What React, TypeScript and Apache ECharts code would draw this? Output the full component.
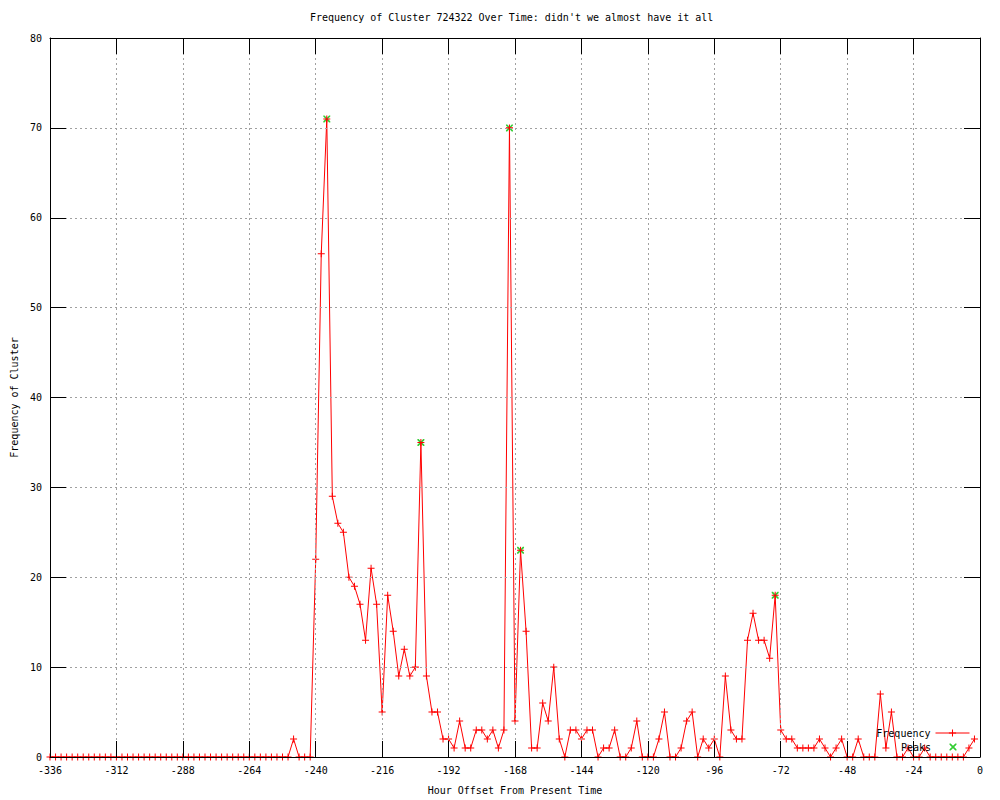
import React, { useEffect, useRef } from "react";
import * as echarts from "echarts";

const titleText = "Frequency of Cluster 724322 Over Time: didn't we almost have it all";
const xAxisName = "Hour Offset From Present Time";
const yAxisName = "Frequency of Cluster";

// samples every 2 hours, starting at -336
const startHour = -336;
const stepHours = 2;
const frequency = [
  0, 0, 0, 0, 0, 0, 0, 0, 0, 0, 0, 0, 0, 0, 0, 0, 0, 0, 0, 0, 0, 0,
  0, 0, 0, 0, 0, 0, 0, 0, 0, 0, 0, 0, 0, 0, 0, 0, 0, 0, 0, 0, 0, 0,
  2, 0, 0, 0,
  22, 56, 71, 29, 26, 25, 20, 19, 17, 13, 21, 17, 5, 18, 14, 9, 12, 9, 10, 35,
  9, 5, 5, 2, 2, 1, 4, 1, 1, 3, 3, 2, 3, 1, 3, 70, 4, 23, 14, 1,
  1, 6, 4, 10, 2, 0, 3, 3, 2, 3, 3, 0, 1, 1, 3, 0, 0, 1, 4, 0,
  0, 0, 2, 5, 0, 0, 1, 4, 5, 0, 2, 1, 2, 0, 9, 3, 2, 2, 13, 16,
  13, 13, 11, 18, 3, 2, 2, 1, 1, 1, 1, 2, 1, 0, 1, 2, 0, 0, 2, 0,
  0, 0, 7, 1, 5, 0, 0, 1, 0, 0, 1, 0, 0, 0, 0, 0, 0, 0, 1, 2,
];

const peakHours = [-236, -202, -170, -166, -74];
const peakValues = [71, 35, 70, 23, 18];

const xTickInterval = 24;
const yTickInterval = 10;

const PLUS = "path://M3,0L4,0L4,3L7,3L7,4L4,4L4,7L3,7L3,4L0,4L0,3L3,3Z";
const CROSS = "path://M0,0L1.2,0L7,5.8L7,7L5.8,7L0,1.2Z M5.8,0L7,0L7,1.2L1.2,7L0,7L0,5.8Z";
// same cross, centred in a 34x7 box for the legend key
const CROSS_KEY =
  "path://M0,0L0,0Z M34,7L34,7Z M13.5,0L14.7,0L20.5,5.8L20.5,7L19.3,7L13.5,1.2Z M19.3,0L20.5,0L20.5,1.2L14.7,7L13.5,7L13.5,5.8Z";

const FONT = "DejaVu Sans Mono";
const RED = "#ff0000";
const GREEN = "#00c000";

export default function App() {
  const ref = useRef<HTMLDivElement>(null);

  useEffect(() => {
    if (!ref.current) return;
    const chart = echarts.init(ref.current, null, { renderer: "svg" });

    const freqData = frequency.map((v, i) => [startHour + i * stepHours, v]);
    const peakData = peakHours.map((h, i) => [h, peakValues[i]]);

    const tickCommon = {
      show: true,
      inside: true,
      length: 16,
      lineStyle: { color: "#000", width: 1 },
    };
    const axisLineCommon = { show: true, onZero: false, lineStyle: { color: "#000", width: 1 } };
    const labelCommon = { color: "#000", fontFamily: FONT, fontSize: 10, margin: 8 };
    const gridLine = { show: true, lineStyle: { color: "#a0a0a0", width: 1, type: [2, 3] } };
    const legendText = { fontFamily: FONT, fontSize: 10, color: "#000" };

    chart.setOption({
      animation: false,
      backgroundColor: "#ffffff",
      title: {
        text: titleText,
        left: 310,
        top: 12,
        padding: 0,
        textStyle: { fontFamily: FONT, fontSize: 10, fontWeight: "normal", color: "#000" },
      },
      legend: [
        {
          data: ["Frequency"],
          orient: "vertical",
          right: 30,
          top: 728,
          padding: 0,
          align: "right",
          itemWidth: 34,
          itemHeight: 9,
          lineStyle: { width: 1 },
          textStyle: legendText,
          selectedMode: false,
        },
        {
          data: [{ name: "Peaks", icon: CROSS_KEY }],
          orient: "vertical",
          right: 30,
          top: 742,
          padding: 0,
          align: "right",
          itemWidth: 34,
          itemHeight: 7,
          textStyle: legendText,
          selectedMode: false,
        },
      ],
      grid: { left: 50, right: 20, top: 38, bottom: 40, containLabel: false },
      xAxis: [
        {
          type: "value",
          min: -336,
          max: 0,
          interval: xTickInterval,
          name: xAxisName,
          nameLocation: "middle",
          nameGap: 28,
          nameTextStyle: { fontFamily: FONT, fontSize: 10, color: "#000" },
          axisLine: axisLineCommon,
          axisTick: tickCommon,
          axisLabel: labelCommon,
          splitLine: gridLine,
          z: 5,
        },
        {
          type: "value",
          position: "top",
          min: -336,
          max: 0,
          interval: xTickInterval,
          axisLine: axisLineCommon,
          axisTick: tickCommon,
          axisLabel: { show: false },
          splitLine: { show: false },
          z: 5,
        },
      ],
      yAxis: [
        {
          type: "value",
          min: 0,
          max: 80,
          interval: yTickInterval,
          name: yAxisName,
          nameLocation: "middle",
          nameGap: 31,
          nameRotate: 90,
          nameTextStyle: { fontFamily: FONT, fontSize: 10, color: "#000" },
          axisLine: axisLineCommon,
          axisTick: tickCommon,
          axisLabel: labelCommon,
          splitLine: gridLine,
          z: 5,
        },
        {
          type: "value",
          position: "right",
          min: 0,
          max: 80,
          interval: yTickInterval,
          axisLine: axisLineCommon,
          axisTick: tickCommon,
          axisLabel: { show: false },
          splitLine: { show: false },
          z: 5,
        },
      ],
      series: [
        {
          name: "Frequency",
          type: "line",
          data: freqData,
          xAxisIndex: 0,
          yAxisIndex: 0,
          symbol: PLUS,
          symbolSize: 7,
          showSymbol: true,
          showAllSymbol: true,
          lineStyle: { color: RED, width: 1 },
          itemStyle: { color: RED },
          emphasis: { disabled: true },
          z: 3,
        },
        {
          name: "Peaks",
          type: "scatter",
          data: peakData,
          xAxisIndex: 0,
          yAxisIndex: 0,
          symbol: CROSS,
          symbolSize: 7,
          symbolKeepAspect: true,
          itemStyle: { color: GREEN },
          emphasis: { disabled: true },
          z: 2,
        },
      ],
    });

    return () => chart.dispose();
  }, []);

  return (
    <div
      ref={ref}
      style={{ position: "absolute", left: 0, top: 0, width: 1000, height: 800, background: "#fff" }}
    />
  );
}
